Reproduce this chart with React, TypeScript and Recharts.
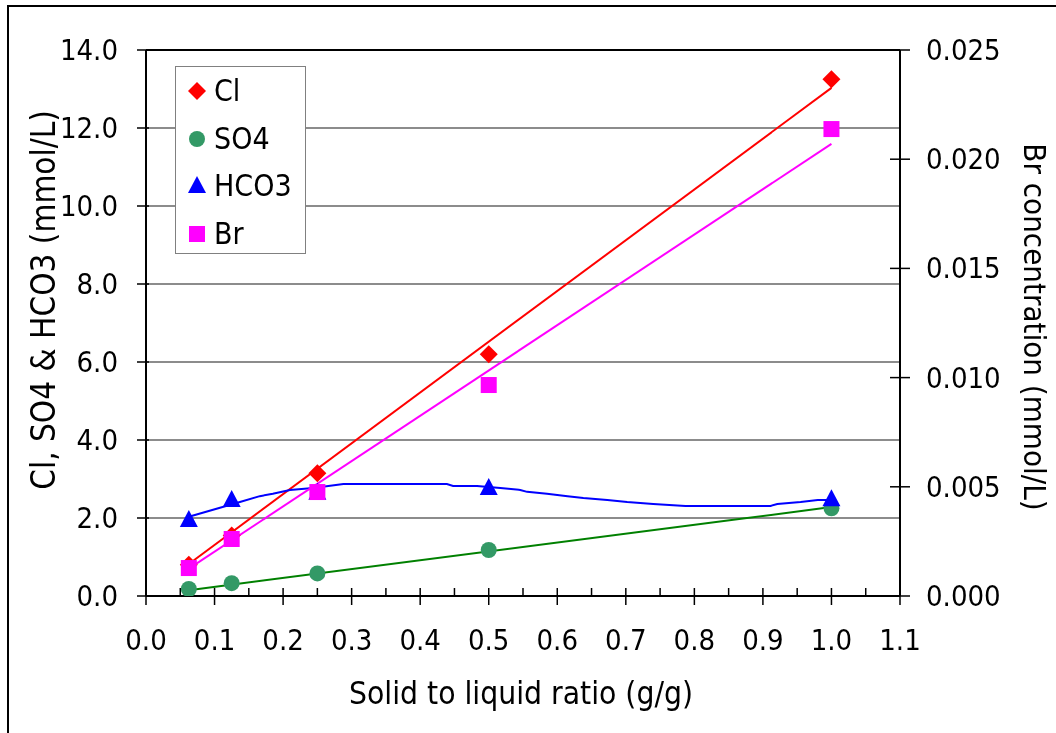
import React from 'react';
import { ComposedChart, XAxis, YAxis, Scatter, Line, CartesianGrid, ReferenceLine, Legend } from 'recharts';

// ---- data ----
const ratio = [0.0625, 0.125, 0.25, 0.5, 1.0];
const clValues = [0.8, 1.55, 3.15, 6.2, 13.25];
const so4Values = [0.18, 0.33, 0.58, 1.18, 2.25];
const hco3Values = [1.95, 2.46, 2.65, 2.77, 2.48];
const brValues = [0.00128, 0.00261, 0.00476, 0.00966, 0.02138];

const fitX = [0.0625, 1.0];
const clFitValues = [0.82, 13.03];
const so4FitValues = [0.15, 2.28];
const brFitValues = [0.00125, 0.0207];

const hco3FitX = [0.0625, 0.137, 0.166, 0.185, 0.21, 0.244, 0.288, 0.439, 0.448, 0.483, 0.517, 0.546, 0.556, 0.585, 0.615, 0.638, 0.673, 0.702, 0.74, 0.787, 0.911, 0.921, 0.955, 0.98, 1.0];
const hco3FitY = [2.03, 2.41, 2.56, 2.62, 2.72, 2.77, 2.87, 2.87, 2.82, 2.82, 2.77, 2.72, 2.67, 2.62, 2.56, 2.51, 2.46, 2.41, 2.36, 2.31, 2.31, 2.36, 2.41, 2.46, 2.46];

const xTicks = [0, 0.05, 0.1, 0.15, 0.2, 0.25, 0.3, 0.35, 0.4, 0.45, 0.5, 0.55, 0.6, 0.65, 0.7, 0.75, 0.8, 0.85, 0.9, 0.95, 1.0, 1.05, 1.1];
const leftTicks = [0, 2, 4, 6, 8, 10, 12, 14];
const rightTicks = [0, 0.005, 0.01, 0.015, 0.02, 0.025];

const seriesNames = ['Cl', 'SO4', 'HCO3', 'Br'];

const xTitle = 'Solid to liquid ratio (g/g)';
const leftTitle = 'Cl, SO4 & HCO3 (mmol/L)';
const rightTitle = 'Br concentration (mmol/L)';

// ---- helpers ----
const pts = (xs: number[], ys: number[]) => xs.map((x, i) => ({ x, y: ys[i] }));

const FONT = '"DejaVu Sans Condensed", "DejaVu Sans", sans-serif';
const COLORS = { Cl: '#FF0000', SO4: '#339966', HCO3: '#0000FF', Br: '#FF00FF' } as Record<string, string>;
const SHAPES = { Cl: 'diamond', SO4: 'circle', HCO3: 'triangle', Br: 'square' } as Record<string, string>;

function markerPath(shape: string, cx: number, cy: number, color: string) {
  switch (shape) {
    case 'diamond':
      return <path d={`M${cx},${cy - 9}L${cx + 9},${cy}L${cx},${cy + 9}L${cx - 9},${cy}Z`} fill={color} />;
    case 'circle':
      return <circle cx={cx} cy={cy} r={8} fill={color} />;
    case 'triangle':
      return <path d={`M${cx},${cy - 10}L${cx + 9},${cy + 7}L${cx - 9},${cy + 7}Z`} fill={color} />;
    default:
      return <rect x={cx - 8} y={cy - 8} width={16} height={16} fill={color} />;
  }
}

const makeShape = (name: string) => (props: any) => {
  if (props.cx == null || props.cy == null) return <g />;
  return markerPath(SHAPES[name], props.cx, props.cy, COLORS[name]);
};

const XTick = (props: any) => {
  const { x, y, payload } = props;
  const v = payload.value;
  const major = Math.abs(Math.round(v * 100) % 10) === 0;
  return (
    <g>
      <line x1={x} x2={x} y1={y - 8} y2={major ? y + 9 : y} stroke="#000" strokeWidth={1.5} />
      {major && (
        <text x={x} y={y + 44} textAnchor="middle" dominantBaseline="central" fontFamily={FONT} fontSize={29} fill="#000">
          {v.toFixed(1)}
        </text>
      )}
    </g>
  );
};

const LeftTick = (props: any) => {
  const { x, y, payload } = props;
  return (
    <g>
      <line x1={x - 9} x2={x + 3} y1={y} y2={y} stroke="#000" strokeWidth={1.5} />
      <text x={x - 28} y={y} textAnchor="end" dominantBaseline="central" fontFamily={FONT} fontSize={29} fill="#000">
        {payload.value.toFixed(1)}
      </text>
    </g>
  );
};

const RightTick = (props: any) => {
  const { x, y, payload } = props;
  return (
    <g>
      <line x1={x - 10} x2={x + 10} y1={y} y2={y} stroke="#000" strokeWidth={1.5} />
      <text x={x + 26} y={y} textAnchor="start" dominantBaseline="central" fontFamily={FONT} fontSize={29} fill="#000">
        {payload.value.toFixed(3)}
      </text>
    </g>
  );
};

const LegendBox = () => (
  <div
    style={{
      width: 131,
      height: 188,
      border: '1.5px solid #808080',
      boxSizing: 'border-box',
      background: '#fff',
      position: 'relative',
      fontFamily: FONT,
      fontSize: 30,
      color: '#000',
    }}
  >
    {seriesNames.map((n, i) => (
      <div
        key={n}
        style={{ position: 'absolute', left: 0, top: 24 + i * 47.5 - 20, height: 40, display: 'flex', alignItems: 'center' }}
      >
        <svg width={38} height={40} style={{ display: 'block' }}>
          {markerPath(SHAPES[n], 21, 20, COLORS[n])}
        </svg>
        <span style={{ lineHeight: '40px', whiteSpace: 'nowrap' }}>{n}</span>
      </div>
    ))}
  </div>
);

export default function App() {
  return (
    <div style={{ position: 'relative', width: 1048, height: 725, background: '#fff' }}>
      <div style={{ position: 'fixed', left: 7, top: 5, width: 1049, height: 2, background: '#000' }} />
      <div style={{ position: 'fixed', left: 7, top: 5, width: 2, height: 728, background: '#000' }} />
      <div style={{ position: 'absolute', left: 1, top: 0 }}>
        <ComposedChart width={1043} height={723} margin={{ top: 42, right: 0, left: 0, bottom: 0 }}>
          <CartesianGrid yAxisId="left" horizontal vertical={false} stroke="#666" strokeWidth={1.5} />
          <XAxis
            dataKey="x"
            type="number"
            domain={[0, 1.1]}
            ticks={xTicks}
            interval={0}
            height={135}
            tickSize={0}
            tickMargin={0}
            tickLine={false}
            axisLine={{ stroke: '#000', strokeWidth: 2 }}
            tick={<XTick />}
            allowDataOverflow
            label={{
              content: (p: any) => {
                const vb = p.viewBox;
                return (
                  <text x={vb.x + vb.width / 2 - 2} y={vb.y + 97} textAnchor="middle" dominantBaseline="central" fontFamily={FONT} fontSize={31.5} fill="#000">
                    {xTitle}
                  </text>
                );
              },
            }}
          />
          <YAxis
            yAxisId="left"
            type="number"
            domain={[0, 14]}
            ticks={leftTicks}
            interval={0}
            width={137}
            tickSize={0}
            tickMargin={0}
            tickLine={false}
            axisLine={{ stroke: '#000', strokeWidth: 2 }}
            tick={<LeftTick />}
            allowDataOverflow
            label={{
              content: (p: any) => {
                const vb = p.viewBox;
                const cx = vb.x + 34;
                const cy = vb.y + vb.height / 2 - 23;
                return (
                  <text x={cx} y={cy} transform={`rotate(-90 ${cx} ${cy})`} textAnchor="middle" dominantBaseline="central" fontFamily={FONT} fontSize={33} fill="#000">
                    {leftTitle}
                  </text>
                );
              },
            }}
          />
          <YAxis
            yAxisId="right"
            orientation="right"
            type="number"
            domain={[0, 0.025]}
            ticks={rightTicks}
            interval={0}
            width={152}
            tickSize={0}
            tickMargin={0}
            tickLine={false}
            axisLine={{ stroke: '#000', strokeWidth: 2 }}
            tick={<RightTick />}
            allowDataOverflow
            label={{
              content: (p: any) => {
                const vb = p.viewBox;
                const cx = vb.x + 135;
                const cy = vb.y + vb.height / 2 + 4;
                return (
                  <text x={cx} y={cy} transform={`rotate(90 ${cx} ${cy})`} textAnchor="middle" dominantBaseline="central" fontFamily={FONT} fontSize={31} fill="#000">
                    {rightTitle}
                  </text>
                );
              },
            }}
          />
          <ReferenceLine yAxisId="left" y={14} stroke="#000" strokeWidth={2} />

          <Scatter name="Cl" yAxisId="left" data={pts(ratio, clValues)} dataKey="y" shape={makeShape('Cl')} isAnimationActive={false} />
          <Line yAxisId="left" data={pts(fitX, clFitValues)} dataKey="y" stroke="#FF0000" strokeWidth={2} dot={false} activeDot={false} isAnimationActive={false} legendType="none" />

          <Scatter name="SO4" yAxisId="left" data={pts(ratio, so4Values)} dataKey="y" shape={makeShape('SO4')} isAnimationActive={false} />
          <Line yAxisId="left" data={pts(fitX, so4FitValues)} dataKey="y" stroke="#008000" strokeWidth={2} dot={false} activeDot={false} isAnimationActive={false} legendType="none" />

          <Scatter name="HCO3" yAxisId="left" data={pts(ratio, hco3Values)} dataKey="y" shape={makeShape('HCO3')} isAnimationActive={false} />
          <Line yAxisId="left" data={pts(hco3FitX, hco3FitY)} dataKey="y" stroke="#0000FF" strokeWidth={2} dot={false} activeDot={false} isAnimationActive={false} legendType="none" />

          <Scatter name="Br" yAxisId="right" data={pts(ratio, brValues)} dataKey="y" shape={makeShape('Br')} isAnimationActive={false} />
          <Line yAxisId="right" data={pts(fitX, brFitValues)} dataKey="y" stroke="#FF00FF" strokeWidth={2} dot={false} activeDot={false} isAnimationActive={false} legendType="none" />

          <Legend
            layout="vertical"
            align="center"
            verticalAlign="middle"
            content={<LegendBox />}
            wrapperStyle={{ position: 'absolute', left: 166, top: 58, width: 131, height: 188 }}
          />
        </ComposedChart>
      </div>
    </div>
  );
}
